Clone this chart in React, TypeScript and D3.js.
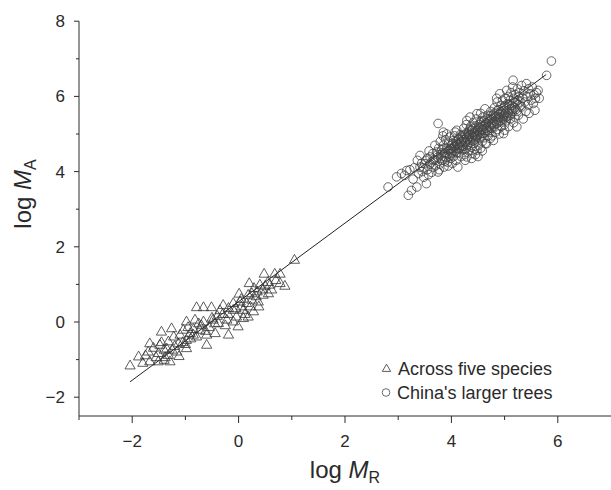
import React from "react";
import * as d3 from "d3";

// ---- data (log M_R, log M_A) ----
const acrossFiveSpecies: [number, number][] = [
  [1.05, 1.64], [0.48, 1.27], [0.68, 1.27], [0.78, 1.27], [0.87, 0.95], [0.78, 1.02],
  [0.59, 0.98], [0.4, 0.98], [0.2, 1.02], [0.29, 0.89], [0.01, 0.74], [0.18, 0.71],
  [0.33, 0.67], [0.46, 0.71], [0.56, 0.75], [-0.1, 0.49], [0.03, 0.53], [0.15, 0.49],
  [0.25, 0.58], [0.37, 0.53], [-0.79, 0.38], [-0.66, 0.38], [-0.51, 0.38], [-0.29, 0.44],
  [-0.19, 0.36], [-0.1, 0.31], [0.09, 0.31], [0.28, 0.27], [-0.98, 0.0], [-0.82, 0.05],
  [-0.66, 0.0], [-0.48, 0.05], [-0.38, -0.04], [-0.22, 0.05], [-0.04, 0.13], [0.09, 0.09],
  [0.18, 0.13], [-1.45, -0.27], [-1.26, -0.18], [-1.04, -0.22], [-0.91, -0.31], [-0.73, -0.22],
  [-0.6, -0.35], [-0.44, -0.31], [-0.19, -0.35], [-0.01, -0.13], [-1.67, -0.58], [-1.48, -0.62],
  [-1.32, -0.53], [-1.13, -0.58], [-0.98, -0.49], [-0.79, -0.4], [-0.6, -0.62], [-1.88, -0.93],
  [-1.7, -0.8], [-1.51, -0.84], [-1.32, -0.89], [-1.16, -0.8], [-0.98, -0.71], [-2.04, -1.17],
  [-1.67, -1.06], [-1.51, -1.06], [-1.29, -1.06], [-1.4, -0.75], [-1.2, -0.65], [-1.05, -0.55],
  [-0.9, -0.45], [-0.85, -0.2], [-0.7, -0.1], [-0.55, -0.15], [-0.4, 0.15], [-0.3, 0.2],
  [-0.25, -0.1], [-0.1, 0.0], [0.05, 0.4], [0.12, 0.2], [0.22, 0.4], [0.35, 0.8],
  [0.45, 0.85], [0.55, 1.05], [0.62, 0.85], [-1.55, -0.95], [-1.38, -0.95], [-1.12, -0.92],
  [-1.75, -0.9], [-1.6, -0.7], [-1.45, -0.55], [-1.35, -0.72], [-1.22, -0.4], [-1.1, -0.35],
  [-1.0, -0.6], [-0.95, -0.15], [-0.85, -0.35], [-0.75, -0.05], [-0.62, -0.25], [-0.5, 0.1],
  [-0.45, -0.05], [-0.35, 0.3], [-0.2, 0.2], [-0.05, 0.35], [0.05, 0.6], [0.25, 0.75],
  [0.38, 0.4], [0.5, 0.95], [0.7, 1.1], [-1.8, -1.1], [-1.4, -1.02], [-1.25, -0.75],
];

const chinaLargerTrees: [number, number][] = [
  [2.81, 3.59], [2.97, 3.86], [3.06, 3.95], [3.16, 4.03], [3.19, 3.37], [3.25, 3.5],
  [3.12, 3.9], [3.22, 4.05], [3.28, 3.8], [3.3, 4.1],
  [3.35, 3.59], [3.41, 4.43], [3.41, 4.12], [3.5, 4.21], [3.53, 3.68], [3.6, 4.39],
  [3.66, 4.12], [3.69, 4.7], [3.38, 3.95], [3.45, 4.0], [3.48, 3.85], [3.52, 4.3],
  [3.55, 4.05], [3.58, 4.55], [3.62, 4.25], [3.65, 4.48], [3.68, 4.32], [3.44, 4.22],
  [3.36, 4.3], [3.57, 3.92], [3.63, 3.98], [3.7, 4.15], [3.75, 5.28], [3.85, 5.05], [3.75, 3.99],
  [3.72, 4.52], [3.74, 4.38], [3.76, 4.62], [3.78, 4.2], [3.79, 4.8], [3.8, 4.45],
  [3.82, 4.58], [3.83, 4.3], [3.85, 4.7], [3.86, 4.12], [3.88, 4.5], [3.89, 4.85],
  [3.9, 4.38], [3.92, 4.62], [3.93, 4.25], [3.95, 4.75], [3.96, 4.48], [3.97, 4.92],
  [3.98, 4.6], [3.99, 4.35], [4.0, 4.7], [4.01, 4.52], [4.03, 4.82], [4.04, 4.4],
  [4.05, 4.65], [4.06, 4.95], [4.08, 4.55], [4.09, 4.3], [4.1, 5.1], [4.1, 4.75],
  [4.11, 4.62], [4.12, 4.12], [4.13, 4.85], [4.14, 4.5], [4.15, 4.7], [4.16, 4.65],
  [4.17, 4.98], [4.18, 4.4], [4.19, 4.8], [4.2, 4.58], [3.84, 4.95], [3.91, 5.0],
  [3.94, 4.15], [4.02, 4.22], [4.07, 5.05], [3.77, 4.05], [3.87, 4.4], [4.0, 4.48],
  [4.21, 4.9], [4.22, 4.68], [4.23, 5.15], [4.24, 4.45], [4.25, 4.8], [4.26, 5.0],
  [4.27, 4.6], [4.28, 5.25], [4.29, 5.36], [4.29, 4.39], [4.3, 4.85], [4.31, 4.72],
  [4.32, 5.05], [4.33, 4.55], [4.34, 4.95], [4.35, 4.83], [4.36, 5.2], [4.37, 4.65],
  [4.38, 5.1], [4.39, 4.48], [4.4, 4.9], [4.41, 5.3], [4.42, 4.75], [4.43, 5.0],
  [4.44, 4.6], [4.45, 5.15], [4.46, 4.85], [4.47, 5.4], [4.48, 5.54], [4.48, 4.57],
  [4.49, 4.95], [4.5, 5.08], [4.51, 4.7], [4.52, 5.25], [4.53, 4.88], [4.54, 5.0],
  [4.55, 4.62], [4.56, 5.35], [4.57, 5.12], [4.58, 4.8], [4.59, 5.45], [4.6, 5.01],
  [4.61, 4.9], [4.62, 5.2], [4.63, 5.67], [4.64, 4.75], [4.65, 5.3], [4.66, 4.74],
  [4.67, 5.1], [4.68, 5.5], [4.69, 4.95], [4.7, 5.22], [4.26, 4.3], [4.45, 4.45],
  [4.35, 5.45], [4.55, 5.55], [4.38, 4.35], [4.58, 4.55], [4.5, 4.4],
  [4.71, 5.05], [4.72, 5.4], [4.73, 4.88], [4.74, 5.6], [4.75, 5.15], [4.76, 5.3],
  [4.77, 4.95], [4.78, 5.5], [4.79, 4.83], [4.8, 5.2], [4.81, 5.7], [4.82, 5.35],
  [4.83, 5.05], [4.84, 5.55], [4.85, 5.28], [4.86, 5.85], [4.87, 5.12], [4.88, 5.45],
  [4.89, 5.65], [4.9, 5.0], [4.91, 6.07], [4.92, 5.35], [4.93, 5.75], [4.94, 5.2],
  [4.95, 5.55], [4.96, 5.9], [4.97, 5.4], [4.98, 5.01], [4.98, 5.45], [4.99, 5.7],
  [5.0, 5.25], [5.01, 5.95], [5.02, 5.55], [5.03, 5.35], [5.04, 6.16], [5.05, 5.8],
  [5.06, 5.48], [5.07, 6.0], [5.08, 5.2], [5.09, 5.65], [5.1, 5.9], [5.11, 5.4],
  [5.12, 6.1], [5.13, 5.75], [5.14, 5.55], [5.15, 6.25], [5.16, 6.43], [5.17, 5.3],
  [5.18, 5.85], [5.19, 5.45], [5.2, 6.05], [4.85, 5.95], [5.0, 5.1],
  [5.21, 5.65], [5.23, 5.19], [5.24, 6.2], [5.25, 5.9], [5.26, 5.5], [5.28, 6.1],
  [5.3, 5.75], [5.32, 6.29], [5.32, 5.72], [5.34, 5.95], [5.35, 5.4], [5.36, 6.15],
  [5.38, 5.85], [5.4, 5.6], [5.41, 6.34], [5.42, 6.0], [5.44, 5.78], [5.45, 6.2],
  [5.46, 5.55], [5.48, 6.07], [5.5, 5.9], [5.52, 6.25], [5.54, 5.81], [5.55, 6.05],
  [5.57, 5.63], [5.58, 5.95], [5.6, 6.1], [5.63, 6.16], [5.65, 5.95], [5.79, 6.56],
  [5.88, 6.94],
  [3.92, 4.45], [3.95, 4.58], [3.97, 4.4], [4.0, 4.62], [4.02, 4.75], [4.04, 4.55],
  [4.06, 4.68], [4.08, 4.8], [4.1, 4.5], [4.12, 4.72], [4.14, 4.88], [4.15, 4.6],
  [4.17, 4.75], [4.19, 4.95], [4.2, 4.7], [4.22, 4.85], [4.23, 4.6], [4.25, 4.98],
  [4.27, 4.78], [4.28, 4.92], [4.3, 4.7], [4.31, 5.0], [4.33, 4.88], [4.34, 5.12],
  [4.36, 4.78], [4.37, 5.0], [4.39, 4.92], [4.4, 5.15], [4.41, 4.82], [4.43, 5.05],
  [4.44, 4.95], [4.46, 5.22], [4.47, 4.9], [4.49, 5.1], [4.5, 4.98], [4.52, 5.18],
  [4.53, 5.05], [4.55, 5.3], [4.56, 4.95], [4.58, 5.2], [4.6, 5.1], [4.61, 5.35],
  [4.63, 5.05], [4.64, 5.25], [4.66, 5.15], [4.67, 5.4], [4.69, 5.08], [4.7, 5.32],
  [4.72, 5.2], [4.73, 5.48], [4.75, 5.25], [4.76, 5.42], [4.78, 5.3], [4.8, 5.55],
  [4.81, 5.25], [4.83, 5.45], [4.85, 5.38], [4.86, 5.62], [4.88, 5.3], [4.9, 5.52],
  [4.91, 5.45], [4.93, 5.6], [4.95, 5.35], [4.97, 5.62], [4.99, 5.5], [5.01, 5.75],
  [5.03, 5.45], [5.05, 5.62], [5.07, 5.55], [5.09, 5.8], [5.11, 5.5], [5.13, 5.68],
  [5.15, 5.6], [5.17, 5.95], [5.19, 5.7], [5.21, 5.85], [5.23, 5.6], [5.25, 5.78],
  [5.27, 6.0], [5.29, 5.85], [3.8, 4.35], [3.83, 4.5], [3.86, 4.62], [3.88, 4.28],
  [3.74, 4.45], [3.71, 4.3], [3.66, 4.3], [3.6, 4.2], [3.55, 4.35], [3.47, 4.1],
];

// fitted line: endpoints in data units
const fitLine: [number, number][] = [[-2.04, -1.59], [5.78, 6.58]];

const xMajorTicks = [-2, 0, 2, 4, 6];
const xMinorTicks = [-3, -1, 1, 3, 5];
const yMajorTicks = [-2, 0, 2, 4, 6, 8];
const yMinorTicks = [-1, 1, 3, 5, 7];

const legendLabels = ["Across five species", "China's larger trees"];

const W = 611;
const H = 490;
const FONT = "'Liberation Sans', Arial, Helvetica, sans-serif";
const INK = "#2a2a2a";

export default function App() {
  const x = d3.scaleLinear().domain([-3, 7]).range([79, 611]);
  const y = d3.scaleLinear().domain([-2.5, 8]).range([416, 21.2]);
  const tri = d3.symbol(d3.symbolTriangle, 45)()!;
  const triSmall = d3.symbol(d3.symbolTriangle, 30)()!;
  const line = d3.line<[number, number]>().x((d) => x(d[0])).y((d) => y(d[1]));
  const fmt = (v: number) => (v < 0 ? "\u2212" + Math.abs(v) : String(v));
  const x0 = x(-3);
  const yb = y(-2.5);

  return (
    <svg width={W} height={H} style={{ position: "absolute", left: 0, top: 0, background: "#fff" }}
      fontFamily={FONT}>
      <rect width={W} height={H} fill="#fff" />
      {/* axes */}
      <line x1={x0} x2={x0} y1={y(8)} y2={yb} stroke={INK} strokeWidth={1} />
      <line x1={x0} x2={W} y1={yb} y2={yb} stroke={INK} strokeWidth={1} />
      {yMajorTicks.map((t) => (
        <g key={"ym" + t}>
          <line x1={x0 - 5} x2={x0} y1={y(t)} y2={y(t)} stroke={INK} />
          <text x={x0 - 14} y={y(t)} dy="0.35em" textAnchor="end" fontSize={17} fill={INK}>
            {fmt(t)}
          </text>
        </g>
      ))}
      {yMinorTicks.map((t) => (
        <line key={"yn" + t} x1={x0 - 3} x2={x0} y1={y(t)} y2={y(t)} stroke={INK} />
      ))}
      {xMajorTicks.map((t) => (
        <g key={"xm" + t}>
          <line x1={x(t)} x2={x(t)} y1={yb} y2={yb + 7} stroke={INK} />
          <text x={x(t)} y={446.5} textAnchor="middle" fontSize={17} fill={INK}>
            {fmt(t)}
          </text>
        </g>
      ))}
      {xMinorTicks.map((t) => (
        <line key={"xn" + t} x1={x(t)} x2={x(t)} y1={yb} y2={yb + 4} stroke={INK} />
      ))}
      {/* axis titles */}
      <text x={345} y={478} textAnchor="middle" fontSize={24} fill={INK}>
        log <tspan fontStyle="italic">M</tspan>
        <tspan fontSize={16} dy={5}>R</tspan>
      </text>
      <text transform="translate(31,194) rotate(-90)" textAnchor="middle" fontSize={24} fill={INK}>
        log <tspan fontStyle="italic">M</tspan>
        <tspan fontSize={16} dy={5}>A</tspan>
      </text>
      {/* fit line */}
      <path d={line(fitLine)!} fill="none" stroke="#222" strokeWidth={1} />
      {/* points */}
      {acrossFiveSpecies.map((d, i) => (
        <path key={"t" + i} d={tri} transform={`translate(${x(d[0])},${y(d[1])})`}
          fill="none" stroke="#333" strokeWidth={0.8} />
      ))}
      {chinaLargerTrees.map((d, i) => (
        <circle key={"c" + i} cx={x(d[0])} cy={y(d[1])} r={4.3}
          fill="none" stroke="#444" strokeWidth={0.8} />
      ))}
      {/* legend */}
      <path d={triSmall} transform="translate(386.5,369)" fill="#fff" stroke="#333" strokeWidth={0.8} />
      <text x={398} y={375} fontSize={18} fill={INK}>{legendLabels[0]}</text>
      <circle cx={386} cy={392.5} r={3.8} fill="#fff" stroke="#444" strokeWidth={0.8} />
      <text x={397} y={398.5} fontSize={18} fill={INK}>{legendLabels[1]}</text>
    </svg>
  );
}
